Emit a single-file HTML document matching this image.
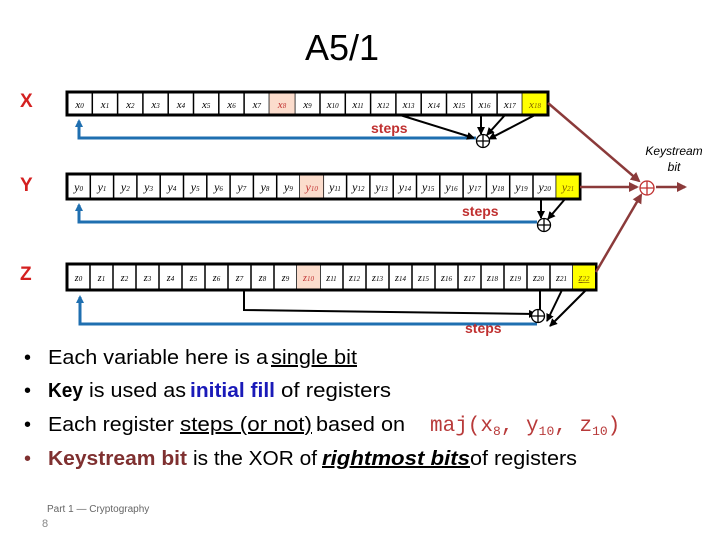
<!DOCTYPE html>
<html><head><meta charset="utf-8"><style>
html,body{margin:0;padding:0;background:#fff;}
svg{display:block;}
</style></head><body>
<svg width="720" height="540" viewBox="0 0 720 540" xmlns="http://www.w3.org/2000/svg" font-family="Liberation Sans, sans-serif">
<defs>
<marker id="ab" markerWidth="8" markerHeight="8" refX="6" refY="4" orient="auto" markerUnits="userSpaceOnUse"><path d="M0,0 L8,4 L0,8 z" fill="#1f6fb0"/></marker>
<marker id="ak" markerWidth="8" markerHeight="8" refX="7" refY="4" orient="auto" markerUnits="userSpaceOnUse"><path d="M0,0 L8,4 L0,8 z" fill="#000"/></marker>
<marker id="ar" markerWidth="10" markerHeight="10" refX="8" refY="5" orient="auto" markerUnits="userSpaceOnUse"><path d="M0,0 L10,5 L0,10 z" fill="#8b3a3a"/></marker>
</defs>
<text x="342" y="60" font-size="36" fill="#000" text-anchor="middle">A5/1</text>
<g font-size="19" font-weight="bold" fill="#d42020">
<text x="20" y="107">X</text><text x="20" y="191">Y</text><text x="20" y="280">Z</text>
</g>

<!-- X register -->
<rect x="67" y="92" width="481" height="23" fill="#fff" stroke="#000" stroke-width="3"/>
<g id="xcells"></g>
<!-- Y register -->
<rect x="67" y="174" width="513" height="25" fill="#fff" stroke="#000" stroke-width="3"/>
<!-- Z register -->
<rect x="67" y="264" width="529" height="26" fill="#fff" stroke="#000" stroke-width="3"/>

<g font-family="Liberation Serif, serif" font-style="italic" font-size="11" text-anchor="middle">
<!-- X cells: 19 cells width 25.3 -->
<g fill="none" stroke="#000" stroke-width="1.5">
<path d="M92.3,92v23M117.6,92v23M142.9,92v23M168.2,92v23M193.5,92v23M218.8,92v23M244.1,92v23M269.4,92v23M294.7,92v23M320,92v23M345.3,92v23M370.6,92v23M395.9,92v23M421.2,92v23M446.5,92v23M471.8,92v23M497.1,92v23M522.4,92v23"/>
</g>
<rect x="269.4" y="93.5" width="25.3" height="20" fill="#fbdccc"/>
<rect x="522.4" y="93.5" width="24" height="20" fill="#ffff00"/>
<text x="79.6" y="108">x<tspan font-size="7">0</tspan></text><text x="105" y="108">x<tspan font-size="7">1</tspan></text><text x="130.3" y="108">x<tspan font-size="7">2</tspan></text><text x="155.6" y="108">x<tspan font-size="7">3</tspan></text><text x="180.9" y="108">x<tspan font-size="7">4</tspan></text><text x="206.2" y="108">x<tspan font-size="7">5</tspan></text><text x="231.5" y="108">x<tspan font-size="7">6</tspan></text><text x="256.8" y="108">x<tspan font-size="7">7</tspan></text><text x="282" y="108" fill="#c03030">x<tspan font-size="7">8</tspan></text><text x="307.4" y="108">x<tspan font-size="7">9</tspan></text><text x="332.7" y="108">x<tspan font-size="7">10</tspan></text><text x="358" y="108">x<tspan font-size="7">11</tspan></text><text x="383.3" y="108">x<tspan font-size="7">12</tspan></text><text x="408.6" y="108">x<tspan font-size="7">13</tspan></text><text x="433.9" y="108">x<tspan font-size="7">14</tspan></text><text x="459.2" y="108">x<tspan font-size="7">15</tspan></text><text x="484.5" y="108">x<tspan font-size="7">16</tspan></text><text x="509.8" y="108">x<tspan font-size="7">17</tspan></text><text x="535" y="108" fill="#806000">x<tspan font-size="7">18</tspan></text>

<!-- Y cells: 22 cells width 23.3 -->
<g fill="none" stroke="#000" stroke-width="1.5">
<path d="M90.3,174v25M113.6,174v25M136.9,174v25M160.2,174v25M183.5,174v25M206.8,174v25M230.1,174v25M253.4,174v25M276.7,174v25M300,174v25M323.3,174v25M346.6,174v25M369.9,174v25M393.2,174v25M416.5,174v25M439.8,174v25M463.1,174v25M486.4,174v25M509.7,174v25M533,174v25M556.3,174v25"/>
</g>
<rect x="300" y="175.5" width="23.3" height="22" fill="#fbdccc"/>
<rect x="556.3" y="175.5" width="22.5" height="22" fill="#ffff00"/>
<g font-size="12">
<text x="78.6" y="191">y<tspan font-size="7">0</tspan></text><text x="102" y="191">y<tspan font-size="7">1</tspan></text><text x="125.3" y="191">y<tspan font-size="7">2</tspan></text><text x="148.6" y="191">y<tspan font-size="7">3</tspan></text><text x="171.9" y="191">y<tspan font-size="7">4</tspan></text><text x="195.2" y="191">y<tspan font-size="7">5</tspan></text><text x="218.5" y="191">y<tspan font-size="7">6</tspan></text><text x="241.8" y="191">y<tspan font-size="7">7</tspan></text><text x="265" y="191">y<tspan font-size="7">8</tspan></text><text x="288.4" y="191">y<tspan font-size="7">9</tspan></text><text x="311.7" y="191" fill="#c03030">y<tspan font-size="7">10</tspan></text><text x="335" y="191">y<tspan font-size="7">11</tspan></text><text x="358.3" y="191">y<tspan font-size="7">12</tspan></text><text x="381.6" y="191">y<tspan font-size="7">13</tspan></text><text x="404.9" y="191">y<tspan font-size="7">14</tspan></text><text x="428.2" y="191">y<tspan font-size="7">15</tspan></text><text x="451.5" y="191">y<tspan font-size="7">16</tspan></text><text x="474.8" y="191">y<tspan font-size="7">17</tspan></text><text x="498" y="191">y<tspan font-size="7">18</tspan></text><text x="521.4" y="191">y<tspan font-size="7">19</tspan></text><text x="544.7" y="191">y<tspan font-size="7">20</tspan></text><text x="568" y="191" fill="#806000">y<tspan font-size="7">21</tspan></text>
</g>

<!-- Z cells: 23 cells width 23 -->
<g fill="none" stroke="#000" stroke-width="1.5">
<path d="M90,264v26M113,264v26M136,264v26M159,264v26M182,264v26M205,264v26M228,264v26M251,264v26M274,264v26M297,264v26M320,264v26M343,264v26M366,264v26M389,264v26M412,264v26M435,264v26M458,264v26M481,264v26M504,264v26M527,264v26M550,264v26M573,264v26"/>
</g>
<rect x="297" y="265.5" width="23" height="23" fill="#fbdccc"/>
<rect x="573" y="265.5" width="22" height="23" fill="#ffff00"/>
<g font-size="10">
<text x="78.5" y="281">z<tspan font-size="7">0</tspan></text><text x="101.5" y="281">z<tspan font-size="7">1</tspan></text><text x="124.5" y="281">z<tspan font-size="7">2</tspan></text><text x="147.5" y="281">z<tspan font-size="7">3</tspan></text><text x="170.5" y="281">z<tspan font-size="7">4</tspan></text><text x="193.5" y="281">z<tspan font-size="7">5</tspan></text><text x="216.5" y="281">z<tspan font-size="7">6</tspan></text><text x="239.5" y="281">z<tspan font-size="7">7</tspan></text><text x="262.5" y="281">z<tspan font-size="7">8</tspan></text><text x="285.5" y="281">z<tspan font-size="7">9</tspan></text><text x="308.5" y="281" fill="#c03030">z<tspan font-size="7">10</tspan></text><text x="331.5" y="281">z<tspan font-size="7">11</tspan></text><text x="354.5" y="281">z<tspan font-size="7">12</tspan></text><text x="377.5" y="281">z<tspan font-size="7">13</tspan></text><text x="400.5" y="281">z<tspan font-size="7">14</tspan></text><text x="423.5" y="281">z<tspan font-size="7">15</tspan></text><text x="446.5" y="281">z<tspan font-size="7">16</tspan></text><text x="469.5" y="281">z<tspan font-size="7">17</tspan></text><text x="492.5" y="281">z<tspan font-size="7">18</tspan></text><text x="515.5" y="281">z<tspan font-size="7">19</tspan></text><text x="538.5" y="281">z<tspan font-size="7">20</tspan></text><text x="561.5" y="281">z<tspan font-size="7">21</tspan></text><text x="584" y="281" fill="#806000" text-decoration="underline">z<tspan font-size="7">22</tspan></text>
</g>
</g>

<!-- feedback blue lines -->
<g fill="none" stroke="#1f6fb0" stroke-width="3">
<path d="M476,138 H79 V121" marker-end="url(#ab)"/>
<path d="M537,222 H79 V205" marker-end="url(#ab)"/>
<path d="M537,324 H80 V297" marker-end="url(#ab)"/>
</g>
<!-- taps black -->
<g fill="none" stroke="#000" stroke-width="2">
<path d="M400,115 L474,138" marker-end="url(#ak)"/>
<path d="M481,115 V134" marker-end="url(#ak)"/>
<path d="M505,115 L487,135" marker-end="url(#ak)"/>
<path d="M535,115 L489,139" marker-end="url(#ak)"/>
<path d="M541,199 V218" marker-end="url(#ak)"/>
<path d="M565,199 L548,219" marker-end="url(#ak)"/>
<path d="M244,290 V310 L536,314" marker-end="url(#ak)"/>
<path d="M540,290 V320" marker-end="url(#ak)"/>
<path d="M562,290 L547,321" marker-end="url(#ak)"/>
<path d="M586,290 L550,326" marker-end="url(#ak)"/>
</g>
<!-- XOR circles -->
<g fill="#fff" stroke="#000" stroke-width="1.3">
<circle cx="483" cy="141" r="6.5"/><path d="M476.5,141h13M483,134.5v13"/>
<circle cx="544" cy="225" r="6.5"/><path d="M537.5,225h13M544,218.5v13"/>
<circle cx="538" cy="316" r="6.5"/><path d="M531.5,316h13M538,309.5v13" />
</g>
<!-- keystream -->
<g fill="none" stroke="#8b3a3a" stroke-width="2.5">
<path d="M548,103 L639,181" marker-end="url(#ar)"/>
<path d="M580,187 L637,187" marker-end="url(#ar)"/>
<path d="M596,272 L641,195" marker-end="url(#ar)"/>
<path d="M656,187 L685,187" marker-end="url(#ar)"/>
</g>
<circle cx="647" cy="188" r="7" fill="#fff" stroke="#c03030" stroke-width="1.3"/>
<path d="M640,188h14M647,181v14" stroke="#c03030" stroke-width="1.3"/>
<g font-size="12" font-style="italic" text-anchor="middle" fill="#000">
<text x="674" y="155">Keystream</text><text x="674" y="171">bit</text>
</g>
<g font-size="14" font-weight="bold" fill="#c03030">
<text x="371" y="133">steps</text><text x="462" y="216">steps</text><text x="465" y="333">steps</text>
</g>

<!-- bullets -->
<g font-size="20" fill="#000">
<text x="24" y="364">•</text><text x="24" y="397">•</text><text x="24" y="431">•</text><text x="24" y="465" fill="#7f3030">•</text>
<text x="48" y="364" textLength="220" lengthAdjust="spacingAndGlyphs">Each variable here is a</text>
<text x="271" y="364" textLength="86" lengthAdjust="spacingAndGlyphs" text-decoration="underline">single bit</text>
<text x="48" y="397" font-weight="bold" textLength="35" lengthAdjust="spacingAndGlyphs">Key</text>
<text x="89" y="397" textLength="97" lengthAdjust="spacingAndGlyphs">is used as</text>
<text x="190" y="397" font-weight="bold" fill="#1a1ab8" textLength="85" lengthAdjust="spacingAndGlyphs">initial fill</text>
<text x="281" y="397" textLength="110" lengthAdjust="spacingAndGlyphs">of registers</text>
<text x="48" y="431" textLength="126" lengthAdjust="spacingAndGlyphs">Each register</text>
<text x="180" y="431" textLength="132" lengthAdjust="spacingAndGlyphs" text-decoration="underline">steps (or not)</text>
<text x="316" y="431" textLength="89" lengthAdjust="spacingAndGlyphs">based on</text>
<text x="48" y="465" font-weight="bold" fill="#7f3030" textLength="139" lengthAdjust="spacingAndGlyphs">Keystream bit</text>
<text x="193" y="465" textLength="124" lengthAdjust="spacingAndGlyphs">is the XOR of</text>
<text x="322" y="465" font-weight="bold" font-style="italic" textLength="148" lengthAdjust="spacingAndGlyphs" text-decoration="underline">rightmost bits </text>
<text x="470" y="465" textLength="107" lengthAdjust="spacingAndGlyphs">of registers</text>
</g>
<text x="430" y="431" font-family="Liberation Mono, monospace" font-size="21" fill="#b83a3a">maj(x<tspan font-size="13" dy="4">8</tspan><tspan dy="-4">, y</tspan><tspan font-size="13" dy="4">10</tspan><tspan dy="-4">, z</tspan><tspan font-size="13" dy="4">10</tspan><tspan dy="-4">)</tspan></text>
<text x="47" y="512" font-size="10" fill="#666">Part 1 — Cryptography</text>
<text x="42" y="527" font-size="11" fill="#888">8</text>
</svg>
</body></html>
